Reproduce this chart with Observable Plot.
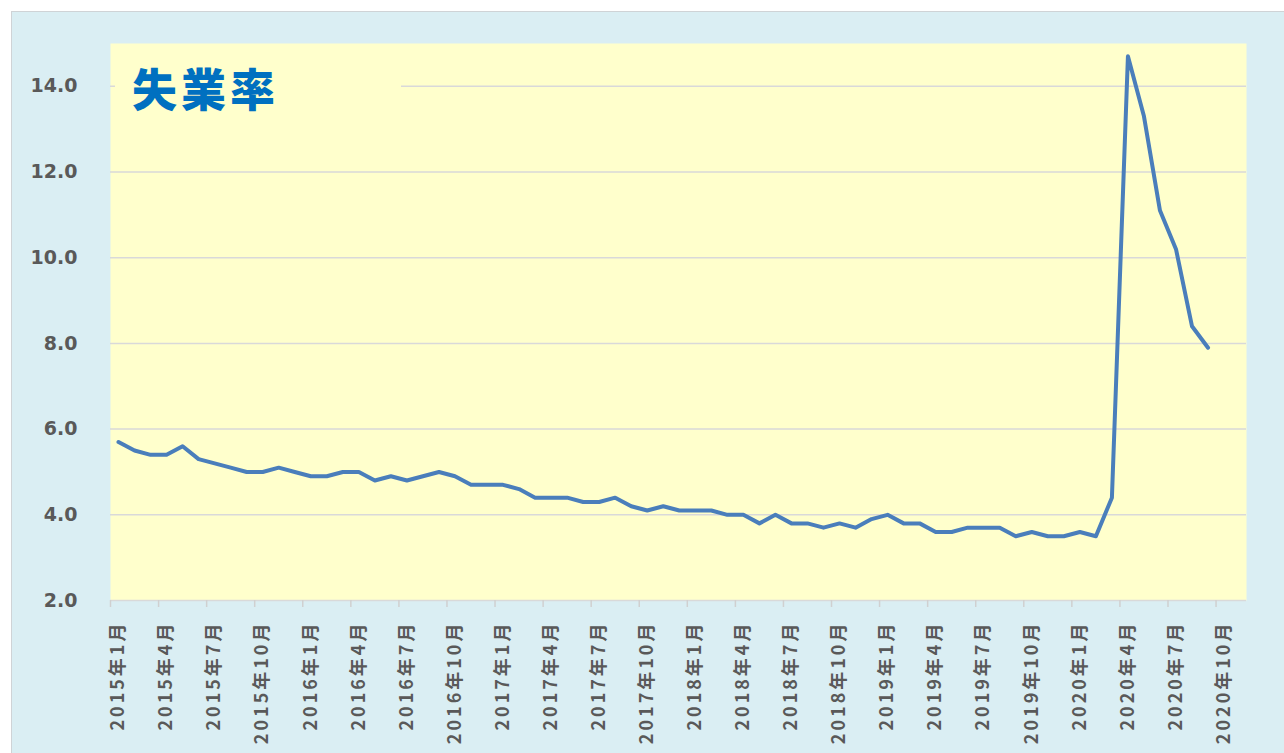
<!DOCTYPE html>
<html>
<head>
<meta charset="utf-8">
<script src="https://cdn.jsdelivr.net/npm/d3@7"></script>
<script src="https://cdn.jsdelivr.net/npm/@observablehq/plot@0.6"></script>
<style>
  html, body { margin: 0; padding: 0; background: #ffffff; overflow: hidden; }
  #frame {
    position: absolute; left: 11px; top: 11px; width: 1290px; height: 760px;
    border: 1px solid #cfd3d6; background: #daeef3;
  }
  #chart { position: absolute; left: 0; top: 0; }
  #title {
    position: absolute; left: 103px; top: 49px; width: 286px; height: 54px;
    background: #ffffcc; color: #0070c0;
    font-family: "Noto Sans CJK JP", sans-serif; font-weight: 900; font-size: 45px;
    letter-spacing: 4px; line-height: 54px; padding-left: 17px; box-sizing: border-box;
  }
  g[aria-label="x-axis tick label"] text { letter-spacing: 3px; }
</style>
</head>
<body>
<div id="frame">
  <div id="chart"></div>
  <div id="title">失業率</div>
</div>
<script>
// Unemployment rate (%), monthly, 2015年1月 – 2020年9月
const unemployment = [
  5.7, 5.5, 5.4, 5.4, 5.6, 5.3, 5.2, 5.1, 5.0, 5.0, 5.1, 5.0,   // 2015
  4.9, 4.9, 5.0, 5.0, 4.8, 4.9, 4.8, 4.9, 5.0, 4.9, 4.7, 4.7,   // 2016
  4.7, 4.6, 4.4, 4.4, 4.4, 4.3, 4.3, 4.4, 4.2, 4.1, 4.2, 4.1,   // 2017
  4.1, 4.1, 4.0, 4.0, 3.8, 4.0, 3.8, 3.8, 3.7, 3.8, 3.7, 3.9,   // 2018
  4.0, 3.8, 3.8, 3.6, 3.6, 3.7, 3.7, 3.7, 3.5, 3.6, 3.5, 3.5,   // 2019
  3.6, 3.5, 4.4, 14.7, 13.3, 11.1, 10.2, 8.4, 7.9               // 2020
];

// x-axis tick labels (every 3 months)
const tickLabels = [
  "2015年1月", "2015年4月", "2015年7月", "2015年10月",
  "2016年1月", "2016年4月", "2016年7月", "2016年10月",
  "2017年1月", "2017年4月", "2017年7月", "2017年10月",
  "2018年1月", "2018年4月", "2018年7月", "2018年10月",
  "2019年1月", "2019年4月", "2019年7月", "2019年10月",
  "2020年1月", "2020年4月", "2020年7月", "2020年10月"
];

// y-axis tick values
const yTicks = [2, 4, 6, 8, 10, 12, 14];

const data = unemployment.map((value, month) => ({month, value}));
const tickMonths = tickLabels.map((_, i) => i * 3);
const tickBoundaries = tickMonths.map(m => m - 0.5);

const labelFont = "'Noto Sans CJK JP', 'DejaVu Sans', sans-serif";

const chart = Plot.plot({
  width: 1272,
  height: 741,
  marginLeft: 98,
  marginTop: 31,
  marginRight: 38,
  marginBottom: 153,
  style: {background: "transparent", overflow: "visible"},
  x: {domain: [-0.5, 70.4], label: null},
  y: {domain: [2, 15], label: null},
  marks: [
    Plot.frame({fill: "#ffffcc", stroke: "none"}),
    Plot.gridY(yTicks, {stroke: "#d9d9d9", strokeOpacity: 1, strokeWidth: 1.5}),
    Plot.axisY(yTicks, {
      tickSize: 0, tickPadding: 33,
      tickFormat: d => d.toFixed(1),
      fontSize: 19, fontWeight: "bold", fill: "#595959",
      fontFamily: "'DejaVu Sans', sans-serif"
    }),
    Plot.axisX(tickBoundaries, {
      tickSize: 7, stroke: "#d0d0d0", strokeWidth: 1.5, fill: "none"
    }),
    Plot.axisX(tickMonths, {
      tickSize: 0, tickPadding: 20, tickRotate: -90,
      tickFormat: d => tickLabels[d / 3],
      fontSize: 18, fontWeight: "bold", fill: "#595959",
      fontFamily: labelFont
    }),
    Plot.line(data, {
      x: "month", y: "value",
      stroke: "#4a7ebb", strokeWidth: 4, strokeLinejoin: "round", strokeLinecap: "round"
    })
  ]
});
document.getElementById("chart").append(chart);
</script>
</body>
</html>
